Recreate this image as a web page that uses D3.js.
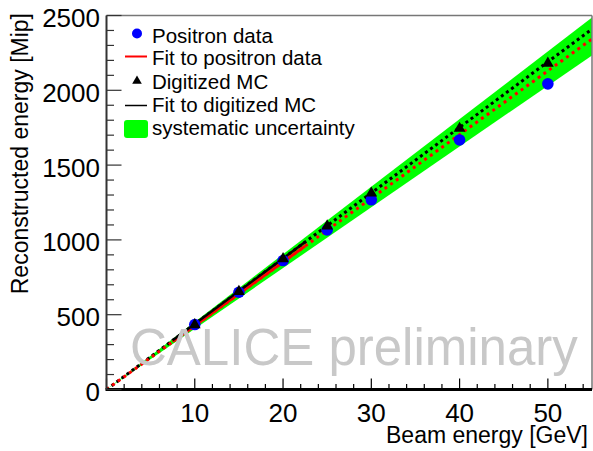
<!DOCTYPE html>
<html>
<head>
<meta charset="utf-8">
<script src="https://cdn.jsdelivr.net/npm/d3@7"></script>
<style>
  body { margin: 0; background: #fff; }
  text { font-family: "Liberation Sans", Arial, sans-serif; }
</style>
</head>
<body>
<div id="chart"></div>
<script>
// beam energies and measured / simulated response
var beamEnergy = [10, 15, 20, 25, 30, 40, 50]
var positronData = [434, 650, 862, 1067, 1268, 1668, 2043]
var digitizedMC = [432, 655, 873, 1092, 1312, 1745, 2180]

// fit lines: x points, fit range and values
var fitX = [0, 55]
var fitRangeX = [7.5, 22.5]
var positronFit = [0, 2343]
var positronFitRange = [320, 959]
var mcFit = [0, 2409]
var mcFitRange = [329, 986]

// systematic band
var bandX = [0, 55]
var bandLow = [0, 2233]
var bandHigh = [0, 2486]

var xTicks = [10, 20, 30, 40, 50]
var yTicks = [0, 500, 1000, 1500, 2000, 2500]

var legendLabels = ["Positron data", "Fit to positron data", "Digitized MC", "Fit to digitized MC", "systematic uncertainty"]

const width = 593,
    height = 451

var x = d3.scaleLinear().domain([0, 55]).range([106.5, 592])
var y = d3.scaleLinear().domain([0, 2500]).range([389.5, 15.5])

var svg = d3.select("#chart")
    .append("svg")
    .attr("width", width)
    .attr("height", height)

svg.append("defs").append("clipPath").attr("id", "clip")
    .append("rect")
    .attr("x", x(0)).attr("y", y(2500))
    .attr("width", x(55) - x(0)).attr("height", y(0) - y(2500))

var plot = svg.append("g").attr("clip-path", "url(#clip)")

// green band
var area = d3.area()
    .x(d => x(d.x))
    .y0(d => y(d.lo))
    .y1(d => y(d.hi))

plot.append("path")
    .datum(bandX.map((v, i) => ({x: v, lo: bandLow[i], hi: bandHigh[i]})))
    .attr("d", area)
    .attr("fill", "#00ff00")

// watermark
svg.append("text")
    .attr("x", 130).attr("y", 365)
    .attr("font-size", 51)
    .attr("fill", "#c8c8c8")
    .text("CALICE preliminary")

var line = d3.line().x(d => x(d[0])).y(d => y(d[1]))

function zip(a, b) { return a.map((v, i) => [v, b[i]]) }

// dotted extrapolations
plot.append("path")
    .attr("d", line(zip(fitX, mcFit)))
    .attr("stroke", "black").attr("stroke-width", 3)
    .attr("stroke-dasharray", "3,3.3").attr("fill", "none")

plot.append("path")
    .attr("d", line(zip(fitX, positronFit)))
    .attr("stroke", "#ff0000").attr("stroke-width", 3)
    .attr("stroke-dasharray", "3,4").attr("fill", "none")

// solid in fit range
plot.append("path")
    .attr("d", line(zip(fitRangeX, positronFitRange)))
    .attr("stroke", "#ff0000").attr("stroke-width", 3).attr("fill", "none")

plot.append("path")
    .attr("d", line(zip(fitRangeX, mcFitRange)))
    .attr("stroke", "black").attr("stroke-width", 2.5).attr("fill", "none")

// markers
plot.selectAll(".dot")
    .data(zip(beamEnergy, positronData))
    .enter()
    .append("circle")
    .attr("cx", d => x(d[0]))
    .attr("cy", d => y(d[1]))
    .attr("r", 5.8)
    .attr("fill", "#0000ff")

var tri = d3.symbol().type(d3.symbolTriangle).size(60)
plot.selectAll(".tri")
    .data(zip(beamEnergy, digitizedMC))
    .enter()
    .append("path")
    .attr("d", tri)
    .attr("transform", d => `translate(${x(d[0])},${y(d[1])})`)
    .attr("fill", "black")

// frame
svg.append("line")
    .attr("x1", x(0)).attr("x2", x(55)).attr("y1", y(2500)).attr("y2", y(2500))
    .attr("stroke", "#777").attr("stroke-width", 1.5)
svg.append("line")
    .attr("x1", x(55)).attr("x2", x(55)).attr("y1", y(2500)).attr("y2", y(0))
    .attr("stroke", "#777").attr("stroke-width", 1.5)

// x axis (ticks inside)
var xMinor = d3.range(0, 56, 2)
svg.selectAll(".xminor")
    .data(xMinor)
    .enter()
    .append("line")
    .attr("x1", d => x(d)).attr("x2", d => x(d))
    .attr("y1", y(0)).attr("y2", d => y(0) - (d % 10 == 0 ? 11 : 5.5))
    .attr("stroke", "black").attr("stroke-width", 1.2)

svg.append("line")
    .attr("x1", x(0) - 1).attr("x2", x(55)).attr("y1", y(0)).attr("y2", y(0))
    .attr("stroke", "black").attr("stroke-width", 3)

svg.selectAll(".xlab")
    .data(xTicks)
    .enter()
    .append("text")
    .attr("x", d => x(d)).attr("y", 422)
    .attr("text-anchor", "middle")
    .attr("font-size", 26)
    .text(d => d)

// y axis
var yMinor = d3.range(0, 2501, 100)
svg.selectAll(".yminor")
    .data(yMinor)
    .enter()
    .append("line")
    .attr("x1", x(0)).attr("x2", d => x(0) + (d % 500 == 0 ? 15 : 7.5))
    .attr("y1", d => y(d)).attr("y2", d => y(d))
    .attr("stroke", "#333").attr("stroke-width", 1.2)

svg.append("line")
    .attr("x1", x(0)).attr("x2", x(0)).attr("y1", y(2500)).attr("y2", y(0))
    .attr("stroke", "#333").attr("stroke-width", 2)

svg.selectAll(".ylab")
    .data(yTicks)
    .enter()
    .append("text")
    .attr("x", 100).attr("y", d => y(d) + 11.5)
    .attr("text-anchor", "end")
    .attr("font-size", 26)
    .text(d => d)

// axis titles
svg.append("text")
    .attr("x", 588).attr("y", 443)
    .attr("text-anchor", "end")
    .attr("font-size", 23)
    .text("Beam energy [GeV]")

svg.append("text")
    .attr("transform", "translate(28,13) rotate(-90)")
    .attr("text-anchor", "end")
    .attr("font-size", 23)
    .text("Reconstructed energy [Mip]")

// legend
var rowY = [35, 57.5, 81, 104.5, 127.5]
var legend = svg.append("g")

legend.selectAll("text")
    .data(legendLabels)
    .enter()
    .append("text")
    .attr("x", 152).attr("y", (d, i) => rowY[i] + 7.5)
    .attr("font-size", 20.5)
    .text(d => d)

legend.append("circle").attr("cx", 137).attr("cy", 33.5).attr("r", 5).attr("fill", "#0000ff")
legend.append("line").attr("x1", 125).attr("x2", 147).attr("y1", 56.5).attr("y2", 56.5)
    .attr("stroke", "#ff0000").attr("stroke-width", 2)
legend.append("path").attr("d", d3.symbol().type(d3.symbolTriangle).size(40))
    .attr("transform", "translate(137,81)").attr("fill", "black")
legend.append("line").attr("x1", 125).attr("x2", 147).attr("y1", 105.5).attr("y2", 105.5)
    .attr("stroke", "black").attr("stroke-width", 1.5)
legend.append("rect").attr("x", 124).attr("y", 120).attr("width", 24).attr("height", 18)
    .attr("rx", 3).attr("fill", "#00ff00")
</script>
</body>
</html>
